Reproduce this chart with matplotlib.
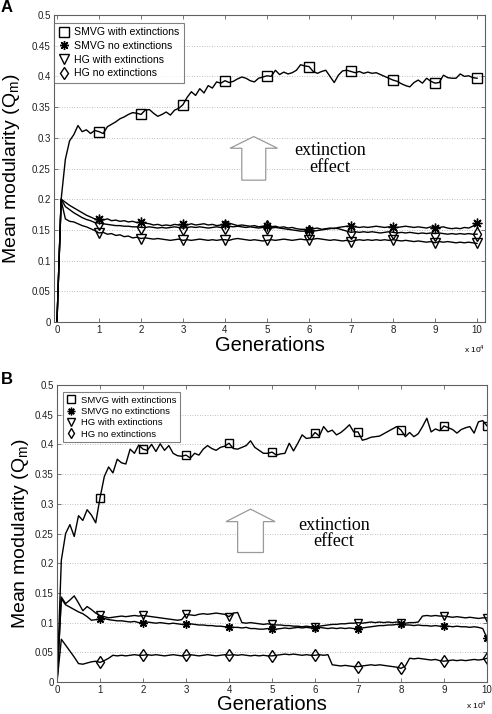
import numpy as np
import matplotlib
matplotlib.use("Agg")
import matplotlib.pyplot as plt
from matplotlib.lines import Line2D
from matplotlib.patches import Polygon
from matplotlib.ticker import FuncFormatter

plt.rcParams['font.family'] = ['Liberation Sans', 'DejaVu Sans']

# ---------------- data ----------------
generations = np.arange(0, 100001, 1000)
x_ticks = [0, 10000, 20000, 30000, 40000, 50000, 60000, 70000, 80000, 90000, 100000]
y_ticks = [0, 0.05, 0.1, 0.15, 0.2, 0.25, 0.3, 0.35, 0.4, 0.45, 0.5]
legend_labels = ["SMVG with extinctions", "SMVG no extinctions",
                 "HG with extinctions", "HG no extinctions"]

A_smvg_ext = [0, 0.200, 0.265, 0.295, 0.305, 0.320, 0.310, 0.313, 0.307, 0.312,
              0.310, 0.307, 0.318, 0.322, 0.326, 0.331, 0.334, 0.338, 0.341, 0.340,
              0.338, 0.345, 0.346, 0.340, 0.335, 0.338, 0.342, 0.337, 0.345, 0.348,
              0.354, 0.366, 0.375, 0.369, 0.380, 0.373, 0.385, 0.381, 0.391, 0.389,
              0.393, 0.390, 0.392, 0.396, 0.399, 0.397, 0.393, 0.391, 0.397, 0.399,
              0.401, 0.400, 0.410, 0.403, 0.407, 0.404, 0.406, 0.410, 0.419, 0.417,
              0.416, 0.408, 0.405, 0.408, 0.410, 0.400, 0.390, 0.402, 0.409, 0.410,
              0.408, 0.406, 0.408, 0.405, 0.407, 0.405, 0.406, 0.403, 0.400, 0.397,
              0.394, 0.392, 0.388, 0.385, 0.383, 0.390, 0.394, 0.389, 0.397, 0.392,
              0.389, 0.390, 0.402, 0.398, 0.397, 0.397, 0.404, 0.400, 0.401, 0.398,
              0.397]
A_smvg_noext = [0, 0.200, 0.195, 0.190, 0.186, 0.182, 0.178, 0.174, 0.171, 0.168,
                0.167, 0.166, 0.168, 0.165, 0.166, 0.164, 0.165, 0.163, 0.164, 0.162,
                0.163, 0.161, 0.160, 0.158, 0.159, 0.157, 0.158, 0.157, 0.159, 0.158,
                0.159, 0.158, 0.160, 0.158, 0.159, 0.160, 0.158, 0.159, 0.157, 0.158,
                0.160, 0.161, 0.159, 0.157, 0.158, 0.157, 0.156, 0.157, 0.155, 0.156,
                0.156, 0.155, 0.156, 0.154, 0.155, 0.153, 0.154, 0.152, 0.151, 0.151,
                0.150, 0.152, 0.153, 0.151, 0.152, 0.153, 0.152, 0.154, 0.155, 0.156,
                0.156, 0.155, 0.154, 0.155, 0.154, 0.155, 0.156, 0.155, 0.154, 0.155,
                0.155, 0.154, 0.155, 0.156, 0.155, 0.154, 0.155, 0.154, 0.153, 0.155,
                0.153, 0.154, 0.155, 0.153, 0.152, 0.153, 0.152, 0.154, 0.153, 0.156,
                0.162]
A_hg_ext = [0, 0.198, 0.168, 0.164, 0.163, 0.160, 0.157, 0.155, 0.152, 0.149,
            0.145, 0.146, 0.143, 0.144, 0.141, 0.142, 0.139, 0.140, 0.137, 0.138,
            0.136, 0.137, 0.136, 0.135, 0.136, 0.135, 0.134, 0.133, 0.134, 0.135,
            0.133, 0.134, 0.133, 0.134, 0.135, 0.134, 0.133, 0.134, 0.133, 0.134,
            0.134, 0.133, 0.135, 0.136, 0.135, 0.134, 0.133, 0.134, 0.133, 0.132,
            0.133, 0.134, 0.133, 0.134, 0.135, 0.134, 0.133, 0.134, 0.135, 0.134,
            0.134, 0.135, 0.136, 0.135, 0.134, 0.133, 0.134, 0.133, 0.132, 0.133,
            0.131, 0.133, 0.134, 0.133, 0.134, 0.133, 0.134, 0.133, 0.134, 0.133,
            0.134, 0.133, 0.132, 0.133, 0.132, 0.131, 0.132, 0.131, 0.130, 0.131,
            0.129, 0.131, 0.130, 0.131, 0.130, 0.129, 0.130, 0.129, 0.130, 0.129,
            0.128]
A_hg_noext = [0, 0.200, 0.188, 0.183, 0.178, 0.174, 0.170, 0.167, 0.165, 0.162,
              0.161, 0.160, 0.159, 0.158, 0.157, 0.157, 0.156, 0.156, 0.155, 0.155,
              0.154, 0.154, 0.155, 0.154, 0.153, 0.154, 0.153, 0.154, 0.155, 0.154,
              0.153, 0.154, 0.155, 0.154, 0.155, 0.154, 0.153, 0.154, 0.155, 0.154,
              0.155, 0.156, 0.155, 0.156, 0.155, 0.154, 0.155, 0.154, 0.153, 0.154,
              0.154, 0.153, 0.154, 0.153, 0.152, 0.151, 0.150, 0.149, 0.148, 0.148,
              0.147, 0.148, 0.149, 0.150, 0.151, 0.152, 0.153, 0.152, 0.150, 0.148,
              0.146, 0.147, 0.146, 0.147, 0.146, 0.147, 0.146, 0.145, 0.146, 0.147,
              0.146, 0.145, 0.146, 0.145, 0.146, 0.145, 0.144, 0.145, 0.144, 0.145,
              0.144, 0.145, 0.144, 0.143, 0.144, 0.143, 0.144, 0.143, 0.144, 0.143,
              0.143]

B_smvg_ext = [0, 0.205, 0.250, 0.265, 0.245, 0.280, 0.272, 0.290, 0.281, 0.268,
              0.310, 0.346, 0.362, 0.352, 0.375, 0.369, 0.367, 0.392, 0.385, 0.399,
              0.392, 0.390, 0.400, 0.388, 0.401, 0.390, 0.398, 0.385, 0.381, 0.380,
              0.382, 0.377, 0.385, 0.382, 0.392, 0.398, 0.393, 0.390, 0.395, 0.397,
              0.402, 0.393, 0.392, 0.395, 0.398, 0.406, 0.395, 0.390, 0.385, 0.385,
              0.387, 0.382, 0.384, 0.385, 0.402, 0.389, 0.402, 0.416, 0.410, 0.411,
              0.420, 0.414, 0.430, 0.421, 0.424, 0.416, 0.420, 0.426, 0.433, 0.421,
              0.421, 0.407, 0.409, 0.412, 0.413, 0.414, 0.418, 0.422, 0.426, 0.430,
              0.424, 0.413, 0.420, 0.413, 0.418, 0.430, 0.444, 0.421, 0.426, 0.423,
              0.431, 0.428, 0.425, 0.419, 0.425, 0.428, 0.430, 0.419, 0.438, 0.440,
              0.431]
B_smvg_noext = [0, 0.140, 0.130, 0.126, 0.122, 0.118, 0.115, 0.110, 0.104, 0.105,
                0.106, 0.107, 0.105, 0.104, 0.103, 0.103, 0.102, 0.101, 0.102, 0.100,
                0.100, 0.101, 0.100, 0.099, 0.100, 0.099, 0.098, 0.099, 0.098, 0.097,
                0.097, 0.098, 0.097, 0.096, 0.096, 0.095, 0.095, 0.094, 0.094, 0.093,
                0.093, 0.092, 0.092, 0.091, 0.092, 0.090, 0.090, 0.089, 0.089, 0.090,
                0.089, 0.089, 0.090, 0.091, 0.090, 0.091, 0.092, 0.091, 0.092, 0.091,
                0.091, 0.092, 0.091, 0.090, 0.091, 0.090, 0.091, 0.090, 0.091, 0.090,
                0.090, 0.091, 0.092, 0.093, 0.094, 0.095, 0.095, 0.096, 0.096, 0.097,
                0.097, 0.096, 0.096, 0.095, 0.096, 0.095, 0.095, 0.094, 0.095, 0.094,
                0.094, 0.094, 0.093, 0.094, 0.093, 0.093, 0.092, 0.093, 0.092, 0.090,
                0.074]
B_hg_ext = [0, 0.143, 0.132, 0.138, 0.145, 0.133, 0.120, 0.127, 0.122, 0.116,
            0.112, 0.110, 0.108, 0.109, 0.110, 0.111, 0.110, 0.111, 0.112, 0.111,
            0.112, 0.111, 0.110, 0.109, 0.108, 0.107, 0.106, 0.105, 0.104, 0.105,
            0.114, 0.113, 0.112, 0.114, 0.115, 0.114, 0.115, 0.116, 0.115, 0.114,
            0.110, 0.116, 0.117, 0.100, 0.099, 0.100, 0.099, 0.098, 0.097, 0.098,
            0.097, 0.096, 0.096, 0.095, 0.095, 0.094, 0.094, 0.093, 0.094, 0.093,
            0.093, 0.094, 0.095, 0.096, 0.097, 0.097, 0.098, 0.098, 0.099, 0.099,
            0.100, 0.099, 0.100, 0.101, 0.100, 0.101, 0.100, 0.101, 0.100, 0.101,
            0.100, 0.099, 0.100, 0.100, 0.101, 0.111, 0.112, 0.111, 0.112, 0.111,
            0.111, 0.110, 0.109, 0.110, 0.109, 0.108, 0.109, 0.108, 0.107, 0.108,
            0.108]
B_hg_noext = [0, 0.072, 0.062, 0.052, 0.042, 0.031, 0.030, 0.032, 0.034, 0.035,
              0.033, 0.036, 0.040, 0.045, 0.044, 0.045, 0.044, 0.045, 0.046, 0.045,
              0.045, 0.046, 0.045, 0.046, 0.045, 0.044, 0.045, 0.046, 0.045, 0.044,
              0.045, 0.046, 0.045, 0.044, 0.045, 0.046, 0.045, 0.044, 0.045, 0.046,
              0.045, 0.046, 0.045, 0.046, 0.045, 0.044, 0.045, 0.044, 0.045, 0.044,
              0.044, 0.045, 0.046, 0.047, 0.046, 0.047, 0.046, 0.045, 0.046, 0.045,
              0.045, 0.046, 0.045, 0.046, 0.029, 0.028, 0.027, 0.028, 0.027, 0.026,
              0.026, 0.027, 0.028, 0.029, 0.028, 0.029, 0.028, 0.027, 0.026, 0.025,
              0.023, 0.027, 0.040, 0.039, 0.040, 0.039, 0.038, 0.037, 0.038, 0.036,
              0.035, 0.036, 0.037, 0.036, 0.037, 0.036, 0.037, 0.038, 0.037, 0.038,
              0.040]

# ---------------- styling ----------------
GRAY = '#606060'
marker_styles = [
    dict(marker='s', mfc='none'),
    dict(marker=(8, 2, 0), mfc='k'),
    dict(marker='v', mfc='none'),
    dict(marker='d', mfc='none'),
]

fig = plt.figure(figsize=(4.92, 7.14), dpi=100)
axA = fig.add_axes([0.1098, 0.5490, 0.8760, 0.4300])
axB = fig.add_axes([0.1159, 0.0448, 0.8740, 0.4160])


def style_axes(ax, xlim, ylab_x, xlab_y, off_y):
    ax.set_xlim(*xlim)
    ax.set_ylim(0, 0.5)
    ax.set_xticks(x_ticks)
    ax.set_yticks(y_ticks)
    ax.xaxis.set_major_formatter(FuncFormatter(lambda v, _: f"{v/1e4:g}"))
    ax.yaxis.set_major_formatter(FuncFormatter(lambda v, _: f"{v:g}"))
    ax.tick_params(direction='in', length=3, width=0.6, top=True, right=True,
                   labelsize=7, colors='#202020', color=GRAY, pad=2.5)
    for s in ax.spines.values():
        s.set_color(GRAY)
        s.set_linewidth(0.8)
    ax.yaxis.grid(True, linestyle=(0, (1, 2)), color='#aaaaaa', linewidth=0.6)
    ax.set_axisbelow(True)
    ax.set_xlabel("Generations", fontsize=14.5)
    ax.xaxis.set_label_coords(0.5, xlab_y)
    ax.set_ylabel("Mean modularity (Q$_\\mathregular{m}$)", fontsize=14)
    ax.yaxis.set_label_coords(ylab_x, 0.5)
    ax.text(1.0, off_y, "x 10$^\\mathregular{4}$", transform=ax.transAxes,
            ha='right', va='center', fontsize=6)


def draw_series(ax, series, ms):
    for ys, st in zip(series, marker_styles):
        ax.plot(generations, ys, color='k', lw=1.0, marker=st['marker'],
                mfc=st['mfc'], mec='k', mew=1.0, ms=ms,
                markevery=slice(10, None, 10))


def draw_arrow(ax, xc, tip, head_base, bottom, head_hw, shaft_hw):
    verts = [(xc, tip), (xc + head_hw, head_base), (xc + shaft_hw, head_base),
             (xc + shaft_hw, bottom), (xc - shaft_hw, bottom),
             (xc - shaft_hw, head_base), (xc - head_hw, head_base)]
    ax.add_patch(Polygon(verts, closed=True, facecolor='white',
                         edgecolor='#9a9a9a', linewidth=0.9, zorder=3))


def add_legend(ax, ms, fs, anchor, spacing):
    handles = [Line2D([0], [0], ls='none', color='k', mec='k', mew=1.0,
                      marker=st['marker'], mfc=st['mfc'], ms=ms)
               for st in marker_styles]
    leg = ax.legend(handles, legend_labels, loc='upper left',
                    bbox_to_anchor=anchor, borderaxespad=0, fontsize=fs,
                    frameon=True, fancybox=False, handlelength=1.0,
                    handletextpad=0.5, labelspacing=spacing, borderpad=0.4)
    leg.get_frame().set_edgecolor(GRAY)
    leg.get_frame().set_linewidth(0.8)


# Panel A
draw_series(axA, [A_smvg_ext, A_smvg_noext, A_hg_ext, A_hg_noext], 7)
style_axes(axA, (-700, 101900), -0.074, -0.047, -0.088)
draw_arrow(axA, 46850, 0.302, 0.283, 0.231, 5650, 2850)
axA.text(65000, 0.280, "extinction", ha='center', va='center', fontsize=13,
         family='Liberation Serif')
axA.text(65000, 0.251, "effect", ha='center', va='center', fontsize=13,
         family='Liberation Serif')
add_legend(axA, 6.5, 7.6, (0.0, 0.974), 0.35)

# Panel B
draw_series(axB, [B_smvg_ext, B_smvg_noext, B_hg_ext, B_hg_noext], 6)
style_axes(axB, (0, 100000), -0.06, -0.045, -0.077)
draw_arrow(axB, 45000, 0.291, 0.270, 0.218, 5700, 3000)
axB.text(64400, 0.264, "extinction", ha='center', va='center', fontsize=13,
         family='Liberation Serif')
axB.text(64400, 0.236, "effect", ha='center', va='center', fontsize=13,
         family='Liberation Serif')
add_legend(axB, 5.5, 6.8, (0.013, 0.977), 0.25)

fig.text(0.002, 0.9995, "A", fontsize=12, fontweight='bold', ha='left', va='top')
fig.text(0.002, 0.4790, "B", fontsize=12, fontweight='bold', ha='left', va='top')

fig.savefig("out.png", dpi=100)
